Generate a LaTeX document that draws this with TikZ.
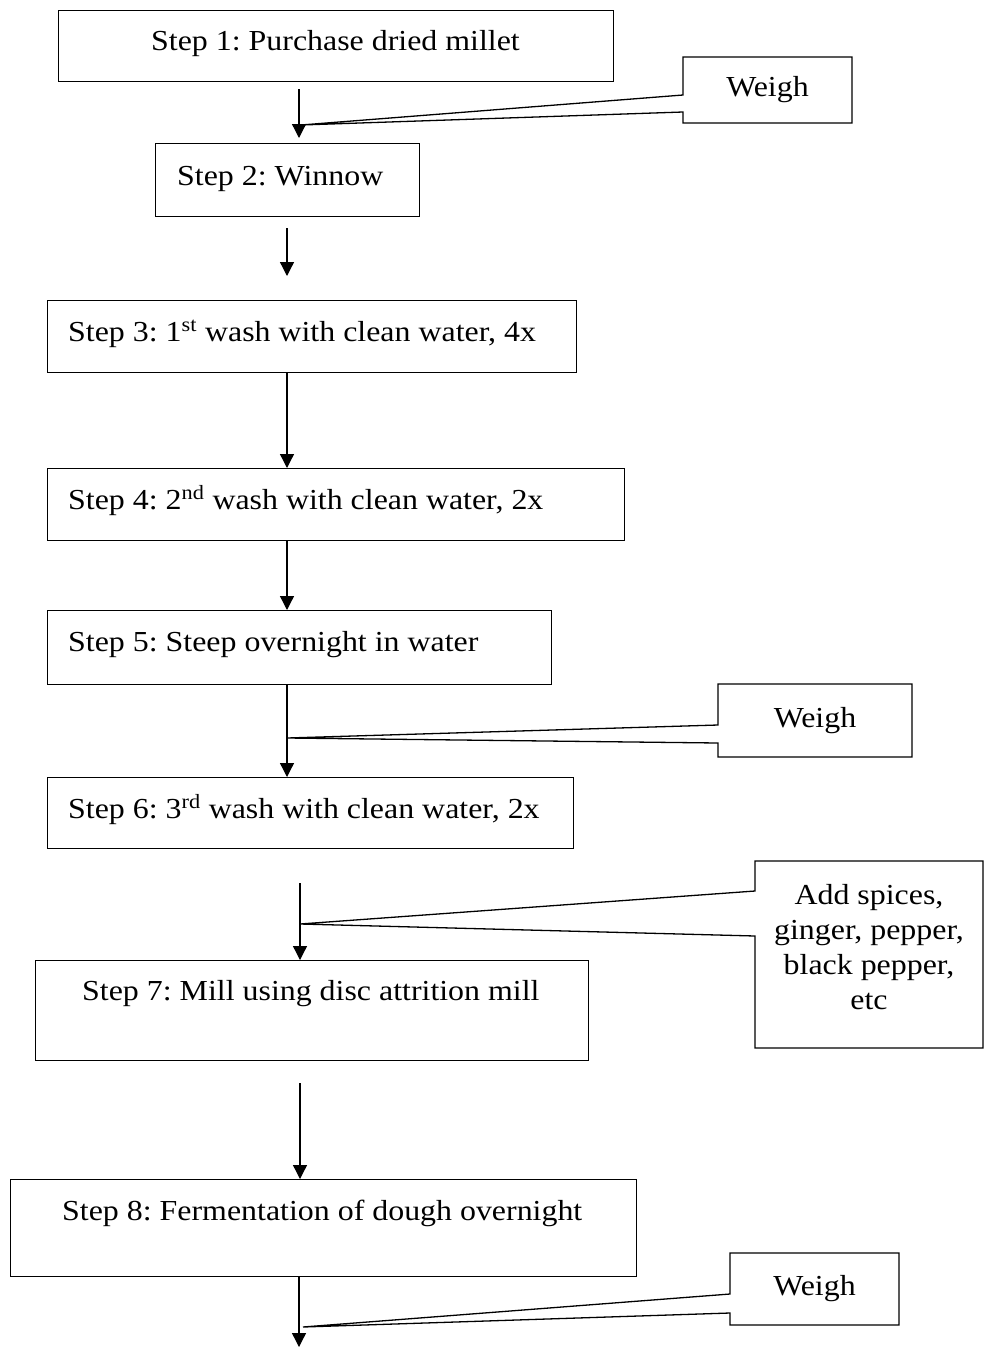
\documentclass[tikz,border=0pt]{standalone}
\usepackage{fontspec}
\setmainfont{Liberation Serif}
\usetikzlibrary{arrows.meta,calc}
\frenchspacing
\begin{document}
\begin{tikzpicture}[x=1pt,y=-1pt,
  every node/.style={font=\fontsize{29}{35}\selectfont},
  stepbox/.style={draw, line width=1.3pt, rectangle, inner sep=0pt, anchor=north west},
  steptext/.style={anchor=base west, inner sep=0pt, xscale=1.10},
  notetext/.style={inner sep=0pt, align=center, xscale=1.10},
  flow/.style={line width=1.3pt, -{Triangle[length=14pt,width=14pt]}},
  callout/.style={draw, line width=1.3pt, line join=miter}]
\useasboundingbox (0,0) rectangle (984,1349);

% process steps
\node[stepbox, minimum width=555, minimum height=71] (s1) at (58,10) {};
\node[steptext] (s1t) at (151,50) {Step 1: Purchase dried millet};
\node[stepbox, minimum width=264, minimum height=73] (s2) at (155,143) {};
\node[steptext] (s2t) at (177,185) {Step 2: Winnow};
\node[stepbox, minimum width=529, minimum height=72] (s3) at (47,300) {};
\node[steptext] (s3t) at (68,341) {Step 3: 1\textsuperscript{st} wash with clean water, 4x};
\node[stepbox, minimum width=577, minimum height=72] (s4) at (47,468) {};
\node[steptext] (s4t) at (68,509) {Step 4: 2\textsuperscript{nd} wash with clean water, 2x};
\node[stepbox, minimum width=504, minimum height=74] (s5) at (47,610) {};
\node[steptext] (s5t) at (68,651) {Step 5: Steep overnight in water};
\node[stepbox, minimum width=526, minimum height=71] (s6) at (47,777) {};
\node[steptext] (s6t) at (68,818) {Step 6: 3\textsuperscript{rd} wash with clean water, 2x};
\node[stepbox, minimum width=553, minimum height=100] (s7) at (35,960) {};
\node[steptext] (s7t) at (82,1000) {Step 7: Mill using disc attrition mill};
\node[stepbox, minimum width=626, minimum height=97] (s8) at (10,1179) {};
\node[steptext] (s8t) at (62,1220) {Step 8: Fermentation of dough overnight};

% flow arrows
\coordinate (a1s) at (299,89);   \coordinate (a1e) at (299,138);
\coordinate (a2s) at (287,228);  \coordinate (a2e) at (287,276);
\coordinate (a3s) at (s3.south -| 287,0); \coordinate (a3e) at (s4.north -| 287,0);
\coordinate (a4s) at (s4.south -| 287,0); \coordinate (a4e) at (s5.north -| 287,0);
\coordinate (a5s) at (s5.south -| 287,0); \coordinate (a5e) at (s6.north -| 287,0);
\coordinate (a6s) at (300,883);  \coordinate (a6e) at (s7.north -| 300,0);
\coordinate (a7s) at (300,1083); \coordinate (a7e) at (s8.north -| 300,0);
\coordinate (a8s) at (s8.south -| 299,0); \coordinate (a8e) at (299,1347);
\foreach \i in {1,...,8} \draw[flow] (a\i s) -- (a\i e);

% side notes: box corners, pointer joints and pointer tips
\coordinate (w1nw) at (683,57);   \coordinate (w1se) at (852,123);
\coordinate (w1a) at (683,95);    \coordinate (w1b) at (683,112);
\coordinate (t1) at (301,125);
\coordinate (w2nw) at (718,684);  \coordinate (w2se) at (912,757);
\coordinate (w2a) at (718,725);   \coordinate (w2b) at (718,743);
\coordinate (t2) at (287,738);
\coordinate (spnw) at (755,861);  \coordinate (spse) at (983,1048);
\coordinate (spa) at (755,891);   \coordinate (spb) at (755,936);
\coordinate (t3) at (300,924);
\coordinate (w3nw) at (730,1253); \coordinate (w3se) at (899,1325);
\coordinate (w3a) at (730,1294);  \coordinate (w3b) at (730,1313);
\coordinate (t4) at (303,1327);

\foreach \n/\t in {w1/t1, w2/t2, sp/t3, w3/t4}
  \draw[callout] (\n nw) -- (\n nw -| \n se) -- (\n se) -- (\n se -| \n nw)
    -- (\n b) -- (\t) -- (\n a) -- cycle;

\node[notetext] (w1t) at ($(w1nw)!0.5!(w1se)$) {Weigh};
\node[notetext] (w2t) at ($(w2nw)!0.5!(w2se)$) {Weigh};
\node[notetext] (spt) at (869,947) {Add spices,\\ginger, pepper,\\black pepper,\\etc};
\node[notetext] (w3t) at ($(w3nw)!0.5!(w3se)$) {Weigh};
\end{tikzpicture}
\end{document}
